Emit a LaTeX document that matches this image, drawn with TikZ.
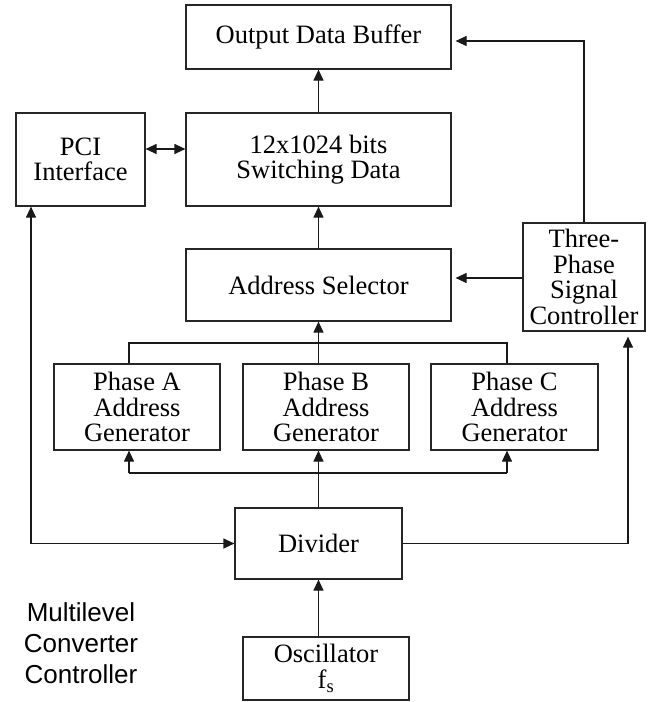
\documentclass[tikz,border=0pt]{standalone}
\usepackage{fontspec}
\setmainfont{Liberation Serif}
\newfontfamily\labelsans{Liberation Sans}
\usetikzlibrary{arrows.meta}
\tikzset{
  blk/.style={draw=black!85, line width=1.2pt, rectangle, inner sep=0pt,
    align=center, font=\fontsize{26.5}{25.5}\selectfont},
  conn/.style={draw=black!90, line width=1.2pt},
  tip/.tip={Triangle[length=11pt,width=10pt]},
  arr/.style={conn, -tip},
  darr/.style={conn, tip-tip},
}
\begin{document}
\begin{tikzpicture}[x=1pt,y=-1pt]
\useasboundingbox (0,0) rectangle (652,702);

% blocks
\node[blk, minimum width=265, minimum height=64] (buf) at (318.5,37) {Output Data Buffer};
\node[blk, minimum width=265, minimum height=93] (sw) at (318.5,159.5) {12x1024 bits\\Switching Data};
\node[blk, minimum width=129, minimum height=93] (pci) at (80.5,159.5) {PCI\\Interface};
\node[blk, minimum width=122, minimum height=108] (tps) at (584,277) {Three-\\Phase\\Signal\\Controller};
\node[blk, minimum width=265, minimum height=72] (sel) at (318.5,285) {Address Selector};
\node[blk, minimum width=166, minimum height=86] (pa) at (137,407) {Phase A\\Address\\Generator};
\node[blk, minimum width=166, minimum height=86] (pb) at (326,407) {Phase B\\Address\\Generator};
\node[blk, minimum width=167, minimum height=86] (pc) at (514.5,407) {Phase C\\Address\\Generator};
\node[blk, minimum width=167, minimum height=71] (div) at (318.5,543.5) {Divider};
\node[blk, minimum width=166, minimum height=63] (osc) at (326,668.5) {Oscillator\\f\textsubscript{s}};

\node[align=center, inner sep=0pt, font=\labelsans\fontsize{26}{31}\selectfont] (title) at (81,643)
  {Multilevel\\Converter\\Controller};

% routing points
\coordinate (ta) at (129,343);
\coordinate (tc) at (507,343);
\coordinate (ba) at (129,473);
\coordinate (bc) at (507,473);
\coordinate (lc) at (31,543);
\coordinate (rc) at (628,543);
\coordinate (tr) at (584,41);

% connectors
\draw[arr] (sw.north) -- (buf.south);
\draw[darr] ([yshift=10.5pt]pci.east) -- ([yshift=10.5pt]sw.west);
\draw[arr, shorten >=4pt] (tps.north) |- (tr) -- (tr -| buf.east);
\draw[arr, shorten >=4pt] ([yshift=-1pt]tps.west) -- ([yshift=-1pt]tps.west -| sel.east);
\draw[arr] (sel.north) -- (sw.south);

\draw[conn] (ta |- pa.north) -- (ta) -- (tc) -- (tc |- pc.north);
\draw[arr] (sel.south |- pb.north) -- (sel.south);

\draw[conn] (ba) -- (bc);
\draw[arr] (ba) -- (ba |- pa.south);
\draw[arr] (bc) -- (bc |- pc.south);
\draw[arr] (div.north) -- (div.north |- pb.south);

\draw[darr] (div.west) -| (lc |- pci.south);
\draw[arr, shorten >=5pt] (div.east) -| (rc |- tps.south);
\draw[arr] (div.south |- osc.north) -- (div.south);
\end{tikzpicture}
\end{document}
